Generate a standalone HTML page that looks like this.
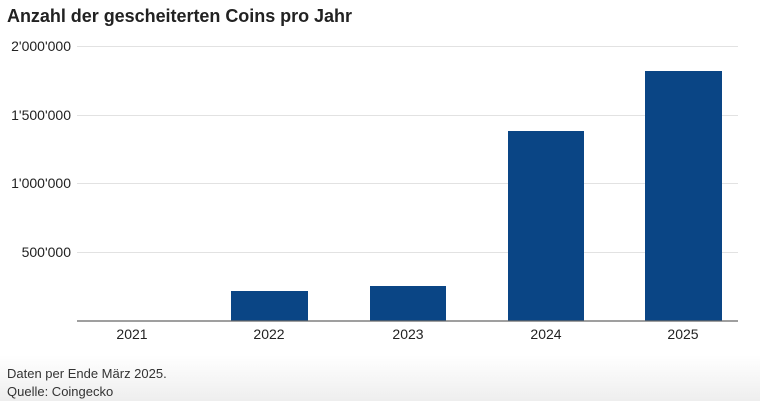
<!DOCTYPE html>
<html><head><meta charset="utf-8"><style>
html,body{margin:0;padding:0;width:760px;height:401px;overflow:hidden;background:#fff;font-family:"Liberation Sans",sans-serif;}
.bg{position:absolute;left:0;top:355px;width:760px;height:46px;background:linear-gradient(#fff,#eeeeee);}
</style></head><body>
<div class="bg"></div>
<svg width="760" height="401" style="position:absolute;left:0;top:0" font-family="Liberation Sans, sans-serif">
<text x="7" y="22" font-size="18" font-weight="bold" fill="#222" textLength="345">Anzahl der gescheiterten Coins pro Jahr</text>
<g stroke="#e2e2e2" stroke-width="1">
<line x1="77" x2="738" y1="46.5" y2="46.5"/>
<line x1="77" x2="738" y1="115.5" y2="115.5"/>
<line x1="77" x2="738" y1="183.5" y2="183.5"/>
<line x1="77" x2="738" y1="252.5" y2="252.5"/>
</g>
<g font-size="14" fill="#222" text-anchor="end">
<text x="71" y="51">2'000'000</text>
<text x="71" y="120">1'500'000</text>
<text x="71" y="188">1'000'000</text>
<text x="71" y="257">500'000</text>
</g>
<g fill="#0a4585">
<rect x="231" y="291" width="77" height="30"/>
<rect x="370" y="286" width="76" height="35"/>
<rect x="508" y="131" width="76" height="190"/>
<rect x="645" y="71" width="77" height="250"/>
</g>
<line x1="77" x2="738" y1="321" y2="321" stroke="#666" stroke-width="1.2"/>
<g font-size="14" fill="#222" text-anchor="middle">
<text x="132" y="339">2021</text>
<text x="269" y="339">2022</text>
<text x="408" y="339">2023</text>
<text x="546" y="339">2024</text>
<text x="683" y="339">2025</text>
</g>
<g font-size="13" fill="#333">
<text x="7" y="378">Daten per Ende März 2025.</text>
<text x="7" y="396">Quelle: Coingecko</text>
</g>
</svg>
</body></html>
